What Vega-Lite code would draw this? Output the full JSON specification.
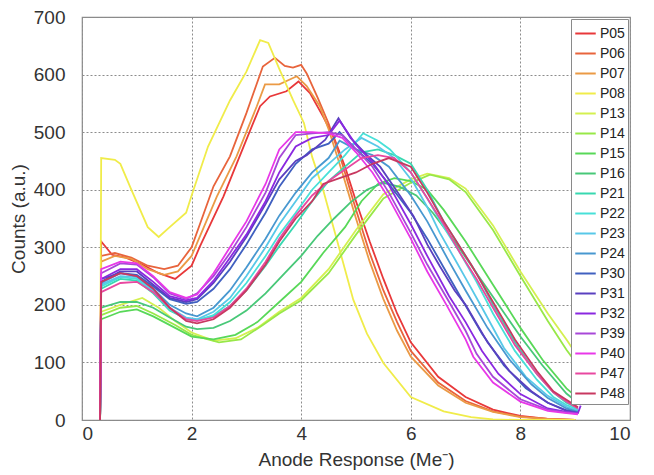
{
  "$schema": "https://vega.github.io/schema/vega-lite/v6.json",
  "width": 548,
  "height": 403,
  "padding": {"left": 82, "top": 17, "right": 24, "bottom": 55},
  "autosize": {"type": "none"},
  "background": "white",
  "config": {
    "font": "Liberation Sans",
    "view": {"stroke": "#8a8a8a", "strokeWidth": 1.2},
    "axis": {"domain": false, "labelFontSize": 19, "titleFontSize": 19, "labelColor": "#333", "titleColor": "#333", "titleFontWeight": "normal", "gridColor": "#8c8c8c", "gridWidth": 1},
    "legend": {"orient": "top-right", "offset": 2, "fillColor": "white", "strokeColor": "#8a8a8a", "padding": 3, "labelFontSize": 14, "labelColor": "#222", "symbolType": "stroke", "symbolSize": 420, "symbolStrokeWidth": 2, "rowPadding": 1, "labelOffset": 3, "title": null}
  },
  "data": {"values": [
    {"s":"P05","x":0.33,"y":0},{"s":"P05","x":0.35,"y":310},{"s":"P05","x":0.55,"y":287},{"s":"P05","x":0.8,"y":282},{"s":"P05","x":1.1,"y":270},{"s":"P05","x":1.4,"y":255},{"s":"P05","x":1.7,"y":245},{"s":"P05","x":2.0,"y":268},{"s":"P05","x":2.15,"y":301},{"s":"P05","x":2.58,"y":388},{"s":"P05","x":3.0,"y":487},{"s":"P05","x":3.25,"y":545},{"s":"P05","x":3.43,"y":562},{"s":"P05","x":3.73,"y":571},{"s":"P05","x":3.95,"y":588},{"s":"P05","x":4.16,"y":568},{"s":"P05","x":4.4,"y":527},{"s":"P05","x":4.6,"y":490},{"s":"P05","x":4.8,"y":440},{"s":"P05","x":5.0,"y":380},{"s":"P05","x":5.25,"y":310},{"s":"P05","x":5.5,"y":245},{"s":"P05","x":5.75,"y":185},{"s":"P05","x":6.0,"y":135},{"s":"P05","x":6.5,"y":75},{"s":"P05","x":7.0,"y":40},{"s":"P05","x":7.5,"y":18},{"s":"P05","x":8.0,"y":7},{"s":"P05","x":8.5,"y":2},{"s":"P05","x":9.0,"y":0},
    {"s":"P06","x":0.33,"y":0},{"s":"P06","x":0.35,"y":285},{"s":"P06","x":0.6,"y":290},{"s":"P06","x":0.9,"y":282},{"s":"P06","x":1.2,"y":268},{"s":"P06","x":1.5,"y":262},{"s":"P06","x":1.75,"y":268},{"s":"P06","x":2.0,"y":300},{"s":"P06","x":2.4,"y":406},{"s":"P06","x":2.7,"y":458},{"s":"P06","x":3.0,"y":533},{"s":"P06","x":3.3,"y":614},{"s":"P06","x":3.52,"y":629},{"s":"P06","x":3.7,"y":615},{"s":"P06","x":3.85,"y":612},{"s":"P06","x":4.0,"y":617},{"s":"P06","x":4.1,"y":602},{"s":"P06","x":4.3,"y":560},{"s":"P06","x":4.5,"y":515},{"s":"P06","x":4.75,"y":445},{"s":"P06","x":5.0,"y":365},{"s":"P06","x":5.25,"y":290},{"s":"P06","x":5.5,"y":225},{"s":"P06","x":5.75,"y":170},{"s":"P06","x":6.0,"y":120},{"s":"P06","x":6.5,"y":65},{"s":"P06","x":7.0,"y":33},{"s":"P06","x":7.5,"y":15},{"s":"P06","x":8.0,"y":6},{"s":"P06","x":8.5,"y":2},{"s":"P06","x":9.0,"y":0},
    {"s":"P07","x":0.33,"y":0},{"s":"P07","x":0.35,"y":275},{"s":"P07","x":0.6,"y":285},{"s":"P07","x":0.9,"y":280},{"s":"P07","x":1.2,"y":262},{"s":"P07","x":1.5,"y":252},{"s":"P07","x":1.75,"y":258},{"s":"P07","x":2.0,"y":285},{"s":"P07","x":2.46,"y":388},{"s":"P07","x":2.82,"y":458},{"s":"P07","x":3.19,"y":545},{"s":"P07","x":3.34,"y":583},{"s":"P07","x":3.6,"y":583},{"s":"P07","x":3.92,"y":597},{"s":"P07","x":4.1,"y":580},{"s":"P07","x":4.34,"y":545},{"s":"P07","x":4.5,"y":505},{"s":"P07","x":4.75,"y":430},{"s":"P07","x":5.0,"y":350},{"s":"P07","x":5.25,"y":275},{"s":"P07","x":5.5,"y":210},{"s":"P07","x":5.75,"y":155},{"s":"P07","x":6.0,"y":110},{"s":"P07","x":6.5,"y":60},{"s":"P07","x":7.0,"y":30},{"s":"P07","x":7.5,"y":14},{"s":"P07","x":8.0,"y":5},{"s":"P07","x":8.5,"y":2},{"s":"P07","x":9.0,"y":0},
    {"s":"P08","x":0.33,"y":0},{"s":"P08","x":0.35,"y":455},{"s":"P08","x":0.6,"y":452},{"s":"P08","x":0.7,"y":445},{"s":"P08","x":0.9,"y":400},{"s":"P08","x":1.2,"y":335},{"s":"P08","x":1.4,"y":318},{"s":"P08","x":1.6,"y":335},{"s":"P08","x":1.9,"y":360},{"s":"P08","x":2.0,"y":390},{"s":"P08","x":2.3,"y":475},{"s":"P08","x":2.7,"y":555},{"s":"P08","x":3.0,"y":605},{"s":"P08","x":3.25,"y":660},{"s":"P08","x":3.4,"y":655},{"s":"P08","x":3.6,"y":610},{"s":"P08","x":3.85,"y":556},{"s":"P08","x":4.05,"y":516},{"s":"P08","x":4.2,"y":457},{"s":"P08","x":4.4,"y":400},{"s":"P08","x":4.7,"y":296},{"s":"P08","x":4.95,"y":209},{"s":"P08","x":5.2,"y":150},{"s":"P08","x":5.5,"y":99},{"s":"P08","x":6.0,"y":40},{"s":"P08","x":6.6,"y":15},{"s":"P08","x":7.1,"y":5},{"s":"P08","x":7.5,"y":1},{"s":"P08","x":8.0,"y":0},{"s":"P08","x":9.0,"y":0},
    {"s":"P13","x":0.33,"y":0},{"s":"P13","x":0.35,"y":188},{"s":"P13","x":0.7,"y":200},{"s":"P13","x":1.1,"y":212},{"s":"P13","x":1.4,"y":195},{"s":"P13","x":1.7,"y":172},{"s":"P13","x":2.0,"y":152},{"s":"P13","x":2.4,"y":138},{"s":"P13","x":2.8,"y":142},{"s":"P13","x":3.2,"y":160},{"s":"P13","x":3.6,"y":188},{"s":"P13","x":4.0,"y":212},{"s":"P13","x":4.5,"y":262},{"s":"P13","x":5.0,"y":330},{"s":"P13","x":5.5,"y":392},{"s":"P13","x":6.0,"y":418},{"s":"P13","x":6.3,"y":428},{"s":"P13","x":6.7,"y":420},{"s":"P13","x":7.0,"y":402},{"s":"P13","x":7.5,"y":338},{"s":"P13","x":8.0,"y":258},{"s":"P13","x":8.5,"y":185},{"s":"P13","x":8.84,"y":140},{"s":"P13","x":9.05,"y":110},
    {"s":"P14","x":0.33,"y":0},{"s":"P14","x":0.35,"y":182},{"s":"P14","x":0.7,"y":195},{"s":"P14","x":1.0,"y":198},{"s":"P14","x":1.3,"y":185},{"s":"P14","x":1.7,"y":165},{"s":"P14","x":2.0,"y":148},{"s":"P14","x":2.5,"y":135},{"s":"P14","x":2.9,"y":140},{"s":"P14","x":3.3,"y":165},{"s":"P14","x":3.6,"y":185},{"s":"P14","x":4.0,"y":208},{"s":"P14","x":4.5,"y":255},{"s":"P14","x":5.0,"y":322},{"s":"P14","x":5.5,"y":385},{"s":"P14","x":6.0,"y":412},{"s":"P14","x":6.35,"y":426},{"s":"P14","x":6.7,"y":418},{"s":"P14","x":7.0,"y":396},{"s":"P14","x":7.5,"y":330},{"s":"P14","x":8.0,"y":250},{"s":"P14","x":8.5,"y":172},{"s":"P14","x":8.84,"y":122},{"s":"P14","x":9.05,"y":95},
    {"s":"P15","x":0.33,"y":0},{"s":"P15","x":0.35,"y":175},{"s":"P15","x":0.7,"y":188},{"s":"P15","x":1.0,"y":192},{"s":"P15","x":1.3,"y":180},{"s":"P15","x":1.7,"y":160},{"s":"P15","x":2.0,"y":145},{"s":"P15","x":2.4,"y":140},{"s":"P15","x":2.8,"y":148},{"s":"P15","x":3.2,"y":170},{"s":"P15","x":3.6,"y":205},{"s":"P15","x":4.0,"y":240},{"s":"P15","x":4.4,"y":290},{"s":"P15","x":4.8,"y":335},{"s":"P15","x":5.1,"y":380},{"s":"P15","x":5.4,"y":410},{"s":"P15","x":5.7,"y":420},{"s":"P15","x":6.0,"y":415},{"s":"P15","x":6.3,"y":400},{"s":"P15","x":6.6,"y":365},{"s":"P15","x":7.0,"y":310},{"s":"P15","x":7.5,"y":235},{"s":"P15","x":8.0,"y":160},{"s":"P15","x":8.4,"y":105},{"s":"P15","x":8.84,"y":55},{"s":"P15","x":9.05,"y":38},
    {"s":"P16","x":0.33,"y":0},{"s":"P16","x":0.35,"y":195},{"s":"P16","x":0.7,"y":205},{"s":"P16","x":1.0,"y":205},{"s":"P16","x":1.3,"y":195},{"s":"P16","x":1.6,"y":178},{"s":"P16","x":1.9,"y":162},{"s":"P16","x":2.1,"y":158},{"s":"P16","x":2.4,"y":160},{"s":"P16","x":2.7,"y":172},{"s":"P16","x":3.0,"y":190},{"s":"P16","x":3.35,"y":220},{"s":"P16","x":3.7,"y":255},{"s":"P16","x":4.0,"y":285},{"s":"P16","x":4.3,"y":320},{"s":"P16","x":4.6,"y":350},{"s":"P16","x":4.9,"y":378},{"s":"P16","x":5.2,"y":400},{"s":"P16","x":5.5,"y":412},{"s":"P16","x":5.8,"y":405},{"s":"P16","x":6.1,"y":390},{"s":"P16","x":6.4,"y":360},{"s":"P16","x":6.8,"y":310},{"s":"P16","x":7.2,"y":255},{"s":"P16","x":7.6,"y":200},{"s":"P16","x":8.0,"y":145},{"s":"P16","x":8.4,"y":95},{"s":"P16","x":8.84,"y":46},{"s":"P16","x":9.05,"y":30},
    {"s":"P21","x":0.33,"y":0},{"s":"P21","x":0.35,"y":228},{"s":"P21","x":0.7,"y":245},{"s":"P21","x":1.0,"y":242},{"s":"P21","x":1.3,"y":220},{"s":"P21","x":1.6,"y":190},{"s":"P21","x":1.9,"y":176},{"s":"P21","x":2.1,"y":174},{"s":"P21","x":2.4,"y":180},{"s":"P21","x":2.7,"y":198},{"s":"P21","x":3.0,"y":225},{"s":"P21","x":3.35,"y":268},{"s":"P21","x":3.6,"y":302},{"s":"P21","x":3.9,"y":340},{"s":"P21","x":4.2,"y":380},{"s":"P21","x":4.5,"y":415},{"s":"P21","x":4.8,"y":440},{"s":"P21","x":5.1,"y":465},{"s":"P21","x":5.4,"y":470},{"s":"P21","x":5.7,"y":460},{"s":"P21","x":6.0,"y":445},{"s":"P21","x":6.3,"y":400},{"s":"P21","x":6.6,"y":345},{"s":"P21","x":6.9,"y":300},{"s":"P21","x":7.2,"y":255},{"s":"P21","x":7.5,"y":200},{"s":"P21","x":7.9,"y":135},{"s":"P21","x":8.3,"y":80},{"s":"P21","x":8.6,"y":48},{"s":"P21","x":8.84,"y":30},{"s":"P21","x":9.05,"y":20},
    {"s":"P22","x":0.33,"y":0},{"s":"P22","x":0.35,"y":232},{"s":"P22","x":0.7,"y":248},{"s":"P22","x":1.0,"y":245},{"s":"P22","x":1.3,"y":222},{"s":"P22","x":1.6,"y":192},{"s":"P22","x":1.9,"y":175},{"s":"P22","x":2.1,"y":173},{"s":"P22","x":2.4,"y":182},{"s":"P22","x":2.7,"y":205},{"s":"P22","x":3.0,"y":238},{"s":"P22","x":3.35,"y":285},{"s":"P22","x":3.6,"y":322},{"s":"P22","x":3.9,"y":360},{"s":"P22","x":4.2,"y":400},{"s":"P22","x":4.5,"y":430},{"s":"P22","x":4.8,"y":460},{"s":"P22","x":5.13,"y":498},{"s":"P22","x":5.4,"y":485},{"s":"P22","x":5.62,"y":470},{"s":"P22","x":6.0,"y":430},{"s":"P22","x":6.3,"y":385},{"s":"P22","x":6.6,"y":335},{"s":"P22","x":6.9,"y":290},{"s":"P22","x":7.2,"y":240},{"s":"P22","x":7.5,"y":185},{"s":"P22","x":7.9,"y":120},{"s":"P22","x":8.3,"y":70},{"s":"P22","x":8.6,"y":40},{"s":"P22","x":8.84,"y":26},{"s":"P22","x":9.05,"y":18},
    {"s":"P23","x":0.33,"y":0},{"s":"P23","x":0.35,"y":235},{"s":"P23","x":0.7,"y":250},{"s":"P23","x":1.0,"y":248},{"s":"P23","x":1.3,"y":225},{"s":"P23","x":1.6,"y":195},{"s":"P23","x":1.9,"y":178},{"s":"P23","x":2.1,"y":175},{"s":"P23","x":2.4,"y":188},{"s":"P23","x":2.7,"y":212},{"s":"P23","x":3.0,"y":250},{"s":"P23","x":3.35,"y":300},{"s":"P23","x":3.6,"y":340},{"s":"P23","x":3.9,"y":380},{"s":"P23","x":4.2,"y":420},{"s":"P23","x":4.5,"y":445},{"s":"P23","x":4.8,"y":470},{"s":"P23","x":5.1,"y":490},{"s":"P23","x":5.4,"y":475},{"s":"P23","x":5.7,"y":455},{"s":"P23","x":6.05,"y":412},{"s":"P23","x":6.3,"y":370},{"s":"P23","x":6.53,"y":325},{"s":"P23","x":6.8,"y":280},{"s":"P23","x":7.02,"y":243},{"s":"P23","x":7.3,"y":195},{"s":"P23","x":7.7,"y":125},{"s":"P23","x":8.1,"y":75},{"s":"P23","x":8.5,"y":42},{"s":"P23","x":8.84,"y":23},{"s":"P23","x":9.05,"y":16},
    {"s":"P24","x":0.33,"y":0},{"s":"P24","x":0.35,"y":238},{"s":"P24","x":0.7,"y":255},{"s":"P24","x":1.0,"y":250},{"s":"P24","x":1.3,"y":228},{"s":"P24","x":1.6,"y":200},{"s":"P24","x":1.9,"y":185},{"s":"P24","x":2.1,"y":180},{"s":"P24","x":2.4,"y":195},{"s":"P24","x":2.7,"y":225},{"s":"P24","x":3.0,"y":265},{"s":"P24","x":3.35,"y":315},{"s":"P24","x":3.6,"y":355},{"s":"P24","x":3.9,"y":395},{"s":"P24","x":4.2,"y":430},{"s":"P24","x":4.5,"y":455},{"s":"P24","x":4.7,"y":485},{"s":"P24","x":5.0,"y":470},{"s":"P24","x":5.3,"y":460},{"s":"P24","x":5.6,"y":440},{"s":"P24","x":6.0,"y":390},{"s":"P24","x":6.3,"y":345},{"s":"P24","x":6.7,"y":275},{"s":"P24","x":7.0,"y":225},{"s":"P24","x":7.4,"y":160},{"s":"P24","x":7.8,"y":105},{"s":"P24","x":8.2,"y":62},{"s":"P24","x":8.5,"y":38},{"s":"P24","x":8.84,"y":20},{"s":"P24","x":9.05,"y":14},
    {"s":"P30","x":0.33,"y":0},{"s":"P30","x":0.35,"y":245},{"s":"P30","x":0.7,"y":255},{"s":"P30","x":1.0,"y":252},{"s":"P30","x":1.3,"y":232},{"s":"P30","x":1.6,"y":210},{"s":"P30","x":1.9,"y":202},{"s":"P30","x":2.1,"y":205},{"s":"P30","x":2.4,"y":228},{"s":"P30","x":2.7,"y":262},{"s":"P30","x":3.0,"y":305},{"s":"P30","x":3.35,"y":360},{"s":"P30","x":3.6,"y":405},{"s":"P30","x":3.9,"y":445},{"s":"P30","x":4.2,"y":470},{"s":"P30","x":4.5,"y":480},{"s":"P30","x":4.7,"y":500},{"s":"P30","x":5.0,"y":470},{"s":"P30","x":5.3,"y":445},{"s":"P30","x":5.6,"y":410},{"s":"P30","x":6.0,"y":360},{"s":"P30","x":6.3,"y":315},{"s":"P30","x":6.6,"y":265},{"s":"P30","x":6.9,"y":215},{"s":"P30","x":7.3,"y":150},{"s":"P30","x":7.7,"y":95},{"s":"P30","x":8.1,"y":55},{"s":"P30","x":8.5,"y":30},{"s":"P30","x":8.84,"y":17},{"s":"P30","x":9.05,"y":13},
    {"s":"P31","x":0.33,"y":0},{"s":"P31","x":0.35,"y":240},{"s":"P31","x":0.7,"y":258},{"s":"P31","x":1.0,"y":258},{"s":"P31","x":1.3,"y":235},{"s":"P31","x":1.6,"y":212},{"s":"P31","x":1.9,"y":205},{"s":"P31","x":2.1,"y":210},{"s":"P31","x":2.4,"y":238},{"s":"P31","x":2.7,"y":275},{"s":"P31","x":3.0,"y":318},{"s":"P31","x":3.35,"y":375},{"s":"P31","x":3.6,"y":418},{"s":"P31","x":3.9,"y":450},{"s":"P31","x":4.1,"y":460},{"s":"P31","x":4.44,"y":487},{"s":"P31","x":4.68,"y":524},{"s":"P31","x":4.9,"y":490},{"s":"P31","x":5.2,"y":460},{"s":"P31","x":5.44,"y":440},{"s":"P31","x":5.8,"y":390},{"s":"P31","x":6.05,"y":354},{"s":"P31","x":6.3,"y":305},{"s":"P31","x":6.53,"y":267},{"s":"P31","x":6.8,"y":225},{"s":"P31","x":7.0,"y":200},{"s":"P31","x":7.4,"y":135},{"s":"P31","x":7.8,"y":85},{"s":"P31","x":8.2,"y":50},{"s":"P31","x":8.5,"y":30},{"s":"P31","x":8.84,"y":16},{"s":"P31","x":9.05,"y":12},
    {"s":"P32","x":0.33,"y":0},{"s":"P32","x":0.35,"y":245},{"s":"P32","x":0.7,"y":262},{"s":"P32","x":1.0,"y":262},{"s":"P32","x":1.3,"y":240},{"s":"P32","x":1.6,"y":215},{"s":"P32","x":1.9,"y":208},{"s":"P32","x":2.1,"y":212},{"s":"P32","x":2.4,"y":242},{"s":"P32","x":2.7,"y":282},{"s":"P32","x":3.0,"y":322},{"s":"P32","x":3.35,"y":380},{"s":"P32","x":3.6,"y":430},{"s":"P32","x":3.9,"y":475},{"s":"P32","x":4.2,"y":490},{"s":"P32","x":4.5,"y":495},{"s":"P32","x":4.7,"y":520},{"s":"P32","x":5.0,"y":478},{"s":"P32","x":5.3,"y":448},{"s":"P32","x":5.6,"y":408},{"s":"P32","x":6.0,"y":340},{"s":"P32","x":6.3,"y":285},{"s":"P32","x":6.7,"y":215},{"s":"P32","x":7.0,"y":170},{"s":"P32","x":7.3,"y":120},{"s":"P32","x":7.6,"y":80},{"s":"P32","x":8.0,"y":45},{"s":"P32","x":8.5,"y":20},{"s":"P32","x":8.84,"y":14},{"s":"P32","x":9.05,"y":12},{"s":"P32","x":9.1,"y":25},
    {"s":"P39","x":0.33,"y":0},{"s":"P39","x":0.35,"y":255},{"s":"P39","x":0.7,"y":272},{"s":"P39","x":1.0,"y":270},{"s":"P39","x":1.3,"y":248},{"s":"P39","x":1.6,"y":220},{"s":"P39","x":1.9,"y":210},{"s":"P39","x":2.1,"y":220},{"s":"P39","x":2.4,"y":250},{"s":"P39","x":2.7,"y":290},{"s":"P39","x":3.0,"y":335},{"s":"P39","x":3.35,"y":395},{"s":"P39","x":3.6,"y":455},{"s":"P39","x":3.9,"y":495},{"s":"P39","x":4.2,"y":498},{"s":"P39","x":4.5,"y":500},{"s":"P39","x":4.75,"y":495},{"s":"P39","x":5.0,"y":470},{"s":"P39","x":5.3,"y":440},{"s":"P39","x":5.6,"y":395},{"s":"P39","x":6.0,"y":325},{"s":"P39","x":6.3,"y":270},{"s":"P39","x":6.7,"y":205},{"s":"P39","x":7.0,"y":155},{"s":"P39","x":7.2,"y":115},{"s":"P39","x":7.5,"y":75},{"s":"P39","x":8.0,"y":36},{"s":"P39","x":8.5,"y":18},{"s":"P39","x":8.84,"y":13},{"s":"P39","x":9.05,"y":11},
    {"s":"P40","x":0.33,"y":0},{"s":"P40","x":0.35,"y":262},{"s":"P40","x":0.7,"y":275},{"s":"P40","x":1.0,"y":272},{"s":"P40","x":1.3,"y":250},{"s":"P40","x":1.6,"y":222},{"s":"P40","x":1.9,"y":212},{"s":"P40","x":2.1,"y":218},{"s":"P40","x":2.4,"y":255},{"s":"P40","x":2.7,"y":300},{"s":"P40","x":3.0,"y":345},{"s":"P40","x":3.35,"y":410},{"s":"P40","x":3.6,"y":470},{"s":"P40","x":3.9,"y":500},{"s":"P40","x":4.2,"y":500},{"s":"P40","x":4.5,"y":498},{"s":"P40","x":4.75,"y":490},{"s":"P40","x":5.0,"y":465},{"s":"P40","x":5.3,"y":430},{"s":"P40","x":5.6,"y":385},{"s":"P40","x":6.0,"y":315},{"s":"P40","x":6.3,"y":258},{"s":"P40","x":6.65,"y":200},{"s":"P40","x":7.0,"y":140},{"s":"P40","x":7.14,"y":110},{"s":"P40","x":7.5,"y":65},{"s":"P40","x":8.0,"y":32},{"s":"P40","x":8.5,"y":16},{"s":"P40","x":8.84,"y":12},{"s":"P40","x":9.05,"y":10},
    {"s":"P47","x":0.33,"y":0},{"s":"P47","x":0.35,"y":222},{"s":"P47","x":0.7,"y":238},{"s":"P47","x":1.0,"y":240},{"s":"P47","x":1.3,"y":222},{"s":"P47","x":1.6,"y":195},{"s":"P47","x":1.9,"y":175},{"s":"P47","x":2.1,"y":172},{"s":"P47","x":2.4,"y":178},{"s":"P47","x":2.7,"y":198},{"s":"P47","x":3.0,"y":228},{"s":"P47","x":3.35,"y":275},{"s":"P47","x":3.6,"y":315},{"s":"P47","x":3.9,"y":355},{"s":"P47","x":4.2,"y":390},{"s":"P47","x":4.5,"y":415},{"s":"P47","x":4.8,"y":435},{"s":"P47","x":5.1,"y":455},{"s":"P47","x":5.4,"y":460},{"s":"P47","x":5.7,"y":455},{"s":"P47","x":6.0,"y":430},{"s":"P47","x":6.3,"y":385},{"s":"P47","x":6.6,"y":340},{"s":"P47","x":6.9,"y":290},{"s":"P47","x":7.2,"y":245},{"s":"P47","x":7.5,"y":195},{"s":"P47","x":7.9,"y":130},{"s":"P47","x":8.3,"y":80},{"s":"P47","x":8.6,"y":48},{"s":"P47","x":8.84,"y":32},{"s":"P47","x":9.05,"y":20},
    {"s":"P48","x":0.33,"y":0},{"s":"P48","x":0.35,"y":240},{"s":"P48","x":0.7,"y":255},{"s":"P48","x":1.0,"y":250},{"s":"P48","x":1.3,"y":228},{"s":"P48","x":1.6,"y":195},{"s":"P48","x":1.9,"y":172},{"s":"P48","x":2.1,"y":168},{"s":"P48","x":2.4,"y":175},{"s":"P48","x":2.7,"y":195},{"s":"P48","x":3.0,"y":225},{"s":"P48","x":3.35,"y":270},{"s":"P48","x":3.6,"y":310},{"s":"P48","x":3.9,"y":350},{"s":"P48","x":4.2,"y":380},{"s":"P48","x":4.4,"y":410},{"s":"P48","x":4.7,"y":420},{"s":"P48","x":5.0,"y":430},{"s":"P48","x":5.3,"y":445},{"s":"P48","x":5.6,"y":455},{"s":"P48","x":6.0,"y":440},{"s":"P48","x":6.3,"y":395},{"s":"P48","x":6.6,"y":345},{"s":"P48","x":6.9,"y":300},{"s":"P48","x":7.1,"y":270},{"s":"P48","x":7.5,"y":205},{"s":"P48","x":7.9,"y":140},{"s":"P48","x":8.3,"y":85},{"s":"P48","x":8.6,"y":50},{"s":"P48","x":8.84,"y":35},{"s":"P48","x":9.05,"y":22}
  ]},
  "mark": {"type": "line", "strokeWidth": 1.8, "clip": true},
  "encoding": {
    "x": {"field": "x", "type": "quantitative", "scale": {"domain": [0, 10], "nice": false}, "axis": {"ticks": false, "gridDash": [2, 2], "values": [0, 2, 4, 6, 8, 10], "title": "Anode Response (Me⁻)", "labelPadding": 4, "titlePadding": 7, "format": "d"}},
    "y": {"field": "y", "type": "quantitative", "scale": {"domain": [0, 700], "nice": false}, "axis": {"ticks": false, "gridDash": [2, 2], "values": [0, 100, 200, 300, 400, 500, 600, 700], "title": "Counts (a.u.)", "labelPadding": 17, "titlePadding": 5, "format": "d"}},
    "color": {"field": "s", "type": "nominal", "scale": {"domain": ["P05","P06","P07","P08","P13","P14","P15","P16","P21","P22","P23","P24","P30","P31","P32","P39","P40","P47","P48"], "range": ["#e8383a","#e8643c","#eb9a45","#f0ec4a","#d4f050","#98e848","#58d858","#48c878","#38d8b0","#48e0d8","#58c8e8","#4898d0","#4060c0","#5a40c0","#8a28e0","#a848d8","#e838e8","#e848a0","#c83860"]}}
  }
}
